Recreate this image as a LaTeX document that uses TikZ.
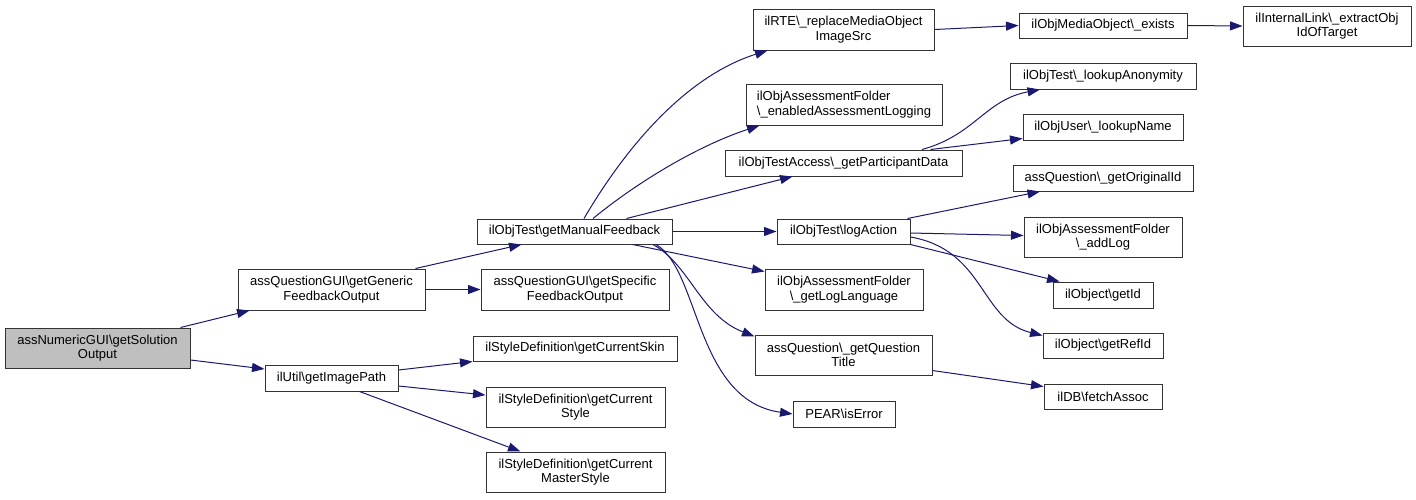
\documentclass[tikz,border=0pt]{standalone}
\usepackage{fontspec}
\setmainfont{Liberation Sans}
\usepackage{xcolor}
\usepackage{tikz}
\usetikzlibrary{arrows.meta}
\usetikzlibrary{positioning}
\definecolor{edgeblue}{rgb}{0.1,0.1,0.44}
\definecolor{rootgray}{rgb}{0.75,0.75,0.75}
\newcommand{\bs}{\textbackslash}

\begin{document}
\begin{tikzpicture}[
  x=1pt, y=-1pt,
  font=\fontsize{13}{14.3}\selectfont,
  fn/.style args={#1/#2}{draw=black!80, line width=1pt, fill=white, inner sep=0pt,
    align=center, minimum width=#1pt, minimum height=#2pt},
  call/.style={draw=edgeblue, line width=1pt, -{Triangle[length=12.5pt,width=9pt]}}]
  \useasboundingbox (0,0) rectangle (1416,499);

  % first and second column
  \node[fn=185/40, fill=rootgray] (sol) at (97.5,348) {assNumericGUI\bs getSolution\\Output};
  \node[fn=187/41] (generic) at (331.5,289.5) {assQuestionGUI\bs getGeneric\\FeedbackOutput};
  \node[fn=133/26] (imgpath) at (331.5,378) {ilUtil\bs getImagePath};

  % third column
  \node[fn=195/25] (manual) at (574.5,231.5) {ilObjTest\bs getManualFeedback};
  \node[fn=188/41] (specific) at (575,289.5) {assQuestionGUI\bs getSpecific\\FeedbackOutput};
  \node[fn=204/25] (skin) at (575,348.5) {ilStyleDefinition\bs getCurrentSkin};
  \node[fn=179/40] (style) at (575.5,407) {ilStyleDefinition\bs getCurrent\\Style};
  \node[fn=179/40] (master) at (575.5,472) {ilStyleDefinition\bs getCurrent\\MasterStyle};

  % fourth column
  \node[fn=181/41] (rte) at (843.5,29.5) {ilRTE\bs\_replaceMediaObject\\ImageSrc};
  \node[fn=196/41, align=left] (enabled) at (844,104.5) {ilObjAssessmentFolder\\\bs\_enabledAssessmentLogging};
  \node[fn=237/26] (partdata) at (843.5,163) {ilObjTestAccess\bs\_getParticipantData};
  \node[fn=133/25] (logact) at (843.5,231.5) {ilObjTest\bs logAction};
  \node[fn=158/41] (loglang) at (844,289.5) {ilObjAssessmentFolder\\\bs\_getLogLanguage};
  \node[fn=177/40] (qtitle) at (843.5,355) {assQuestion\bs\_getQuestion\\Title};
  \node[fn=102/26] (pear) at (844,414) {PEAR\bs isError};

  % fifth column
  \node[fn=168/25] (exists) at (1103,25.5) {ilObjMediaObject\bs\_exists};
  \node[fn=186/26] (anonym) at (1103,76) {ilObjTest\bs\_lookupAnonymity};
  \node[fn=160/26] (lookname) at (1103,127) {ilObjUser\bs\_lookupName};
  \node[fn=180/26] (origid) at (1103,178) {assQuestion\bs\_getOriginalId};
  \node[fn=158/40] (addlog) at (1103,237) {ilObjAssessmentFolder\\\bs\_addLog};
  \node[fn=100/26] (getid) at (1103,295) {ilObject\bs getId};
  \node[fn=120/25] (refid) at (1103,345.5) {ilObject\bs getRefId};
  \node[fn=118/25] (fetch) at (1103,396.5) {ilDB\bs fetchAssoc};
  \node[fn=168/40] (intlink) at (1327,26) {ilInternalLink\bs\_extractObj\\IdOfTarget};

  % calls
  \draw[call] ([xshift=-10pt]sol.north east) -- ([xshift=12pt]generic.south west);
  \draw[call] ([yshift=-12pt]sol.east) -- ([yshift=9pt]imgpath.west);
  \draw[call] ([xshift=-10pt]generic.north east) -- ([xshift=45pt]manual.south west);
  \draw[call] (generic.east) -- (specific.west);
  \draw[call] ([yshift=8pt]imgpath.east) -- (skin.south west);
  \draw[call] ([yshift=-8pt]imgpath.east) -- ([yshift=12pt]style.west);
  \draw[call] ([xshift=28pt]imgpath.south) -- ([xshift=35pt]master.north west);

  \draw[call] ([xshift=9.5pt]manual.north) .. controls (630,140) and (690,75) .. ([xshift=15pt]rte.south west);
  \draw[call] ([xshift=18.5pt]manual.north) .. controls (640,180) and (700,145) .. ([xshift=14pt]enabled.south west);
  \draw[call] ([xshift=52pt]manual.north) -- ([xshift=-51pt]partdata.south);
  \draw[call] (manual.east) -- (logact.west);
  \draw[call] ([xshift=58pt]manual.south) -- ([yshift=-3pt]loglang.north west);
  \draw[call] ([xshift=78.5pt]manual.south) .. controls (690,265) and (700,315) .. ([yshift=-2pt]qtitle.north west);
  \draw[call] ([xshift=81.5pt]manual.south) .. controls (700,270) and (695,400) .. (pear.west);

  \draw[call] (rte.east) -- (exists.west);
  \draw[call] (exists.east) -- (intlink.west);
  \draw[call] ([xshift=78.5pt]partdata.north) .. controls (975,135) and (985,100) .. ([xshift=-63pt]anonym.south);
  \draw[call] ([xshift=87pt]partdata.north) -- ([yshift=2pt]lookname.south west);
  \draw[call] ([xshift=-3pt]logact.north east) -- ([xshift=-63pt]origid.south);
  \draw[call] ([yshift=-1.5pt]logact.east) -- ([yshift=1.5pt]addlog.west);
  \draw[call] (logact.south east) -- ([xshift=7pt]getid.north west);
  \draw[call] ([yshift=-5.5pt]logact.east) .. controls (985,250) and (980,320) .. ([yshift=10pt]refid.west);
  \draw[call] ([yshift=5pt]qtitle.south east) -- ([yshift=10pt]fetch.west);
\end{tikzpicture}
\end{document}
